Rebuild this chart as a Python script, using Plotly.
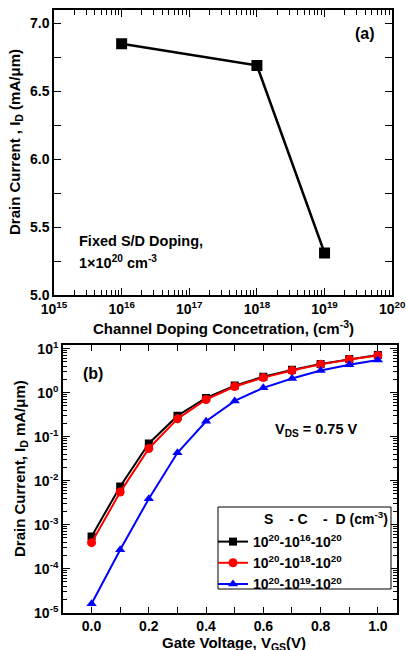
import plotly.graph_objects as go

# ---- data (a) ----
doping = [1e16, 1e18, 1e19]
id_a = [6.85, 6.69, 5.31]

# ---- data (b) ----
vgs = [0.0, 0.1, 0.2, 0.3, 0.4, 0.5, 0.6, 0.7, 0.8, 0.9, 1.0]
id_c16 = [5.4e-4, 7.4e-3, 0.070, 0.30, 0.76, 1.45, 2.3, 3.3, 4.5, 5.8, 7.2]
id_c18 = [3.9e-4, 5.5e-3, 0.054, 0.254, 0.70, 1.38, 2.2, 3.2, 4.4, 5.7, 7.0]
id_c19 = [1.6e-5, 2.7e-4, 3.9e-3, 0.043, 0.224, 0.65, 1.29, 2.1, 3.2, 4.3, 5.5]

names = ["<b>10<sup>20</sup>-10<sup>16</sup>-10<sup>20</sup></b>",
         "<b>10<sup>20</sup>-10<sup>18</sup>-10<sup>20</sup></b>",
         "<b>10<sup>20</sup>-10<sup>19</sup>-10<sup>20</sup></b>"]
legend_header = "<b>S    - C    -  D (cm<sup>-3</sup>)</b>"

xa_ticks = [15, 16, 17, 18, 19, 20]
ya_ticks = [5.0, 5.5, 6.0, 6.5, 7.0]
yb_ticks = [-5, -4, -3, -2, -1, 0, 1]
xb_ticks = [0.0, 0.2, 0.4, 0.6, 0.8, 1.0]

FONT = "Liberation Sans, Arial, sans-serif"
W, H = 406, 650

fig = go.Figure()

fig.add_trace(go.Scatter(x=doping, y=id_a, mode="lines+markers",
                         line=dict(color="black", width=2.5),
                         marker=dict(symbol="square", size=11, color="black"),
                         xaxis="x", yaxis="y", showlegend=False))

colors = ["black", "red", "blue"]
symbols = ["square", "circle", "triangle-up"]
sizes = [8, 9, 9]
for ys, nm, c, s, sz in zip([id_c16, id_c18, id_c19], names, colors, symbols, sizes):
    fig.add_trace(go.Scatter(x=vgs, y=ys, mode="lines+markers", name=nm,
                             line=dict(color=c, width=2),
                             marker=dict(symbol=s, size=sz, color=c),
                             xaxis="x2", yaxis="y2"))

axis_common = dict(showline=True, linecolor="black", linewidth=1.5, mirror="allticks",
                   ticks="inside", tickcolor="black", showgrid=False, zeroline=False,
                   automargin=False,
                   tickfont=dict(family=FONT, size=14, color="black", weight="bold"))

fig.update_layout(
    width=W, height=H,
    margin=dict(l=0, r=0, t=0, b=0),
    paper_bgcolor="white", plot_bgcolor="white",
    font=dict(family=FONT, color="black"),
    xaxis=dict(type="log", range=[15, 20], domain=[0.133, 0.966], anchor="y",
               tickvals=[10.0**k for k in xa_ticks],
               ticktext=[f"<b>10<sup>{k}</sup></b>" for k in xa_ticks],
               ticklen=7, minor=dict(ticks="inside", ticklen=5, dtick="D1", tickcolor="black"),
               **axis_common),
    yaxis=dict(range=[5.0, 7.1], domain=[0.546, 0.985], anchor="x",
               tickvals=ya_ticks, ticktext=[f"<b>{v:.1f}</b>" for v in ya_ticks],
               ticklen=7, minor=dict(ticks="inside", ticklen=7, dtick=0.25, tickcolor="black"),
               **axis_common),
    xaxis2=dict(range=[-0.1, 1.067], domain=[0.155, 0.978], anchor="y2",
                tickvals=xb_ticks, ticktext=[f"<b>{v:.1f}</b>" for v in xb_ticks],
                ticklen=6, minor=dict(ticks="inside", ticklen=6, dtick=0.1, tickcolor="black"),
                **axis_common),
    yaxis2=dict(type="log", range=[-5, 1.08], domain=[0.0574, 0.469], anchor="x2",
                tickvals=[10.0**k for k in yb_ticks],
                ticktext=[f"<b>10<sup>{k}</sup></b>" for k in yb_ticks],
                ticklen=7, minor=dict(ticks="inside", ticklen=4, dtick="D1", tickcolor="black"),
                **axis_common),
    legend=dict(x=213/W, y=1-526/H, xanchor="left", yanchor="top",
                borderwidth=0, bgcolor="rgba(0,0,0,0)",
                font=dict(family=FONT, size=14, color="black"),
                tracegroupgap=0, itemwidth=30),
    shapes=[dict(type="rect", xref="paper", yref="paper",
                 x0=218/W, x1=391/W, y0=1-589/H, y1=1-507/H,
                 line=dict(color="black", width=1), fillcolor="white", layer="above")],
)


def ann(text, x, y, size=15, **kw):
    d = dict(text=text, x=x / W, y=1 - y / H, xref="paper", yref="paper", showarrow=False,
             xanchor="center", yanchor="middle",
             font=dict(family=FONT, size=size, color="black"))
    d.update(kw)
    return d


annotations = [
    ann("<b>(a)</b>", 365, 33, size=16),
    ann("<b>Fixed S/D Doping,</b>", 77, 241, size=14.5, xanchor="left"),
    ann("<b>1×10<sup>20</sup> cm<sup>-3</sup></b>", 77, 262, size=14.5, xanchor="left"),
    ann("<b>Channel Doping Concetration, (cm<sup>-3</sup>)</b>", 223, 327, size=15),
    ann("<b>Drain Current , I<sub>D</sub> (mA/μm)</b>", 15, 142, size=15, textangle=-90),
    ann("<b>(b)</b>", 93, 373, size=16),
    ann("<b>V<sub>DS</sub> = 0.75 V</b>", 316, 430, size=14.5),
    ann("<b>Gate Voltage, V<sub>GS</sub>(V)</b>", 234, 643, size=15),
    ann("<b>Drain Current, I<sub>D</sub> mA/μm)</b>", 20, 469, size=15, textangle=-90),
    ann(legend_header, 326, 518, size=14),
]
fig.update_layout(annotations=annotations)

fig.write_html("out.html", config={"displayModeBar": False},
               post_script="document.body.style.margin='0px';document.body.style.overflow='hidden';")
